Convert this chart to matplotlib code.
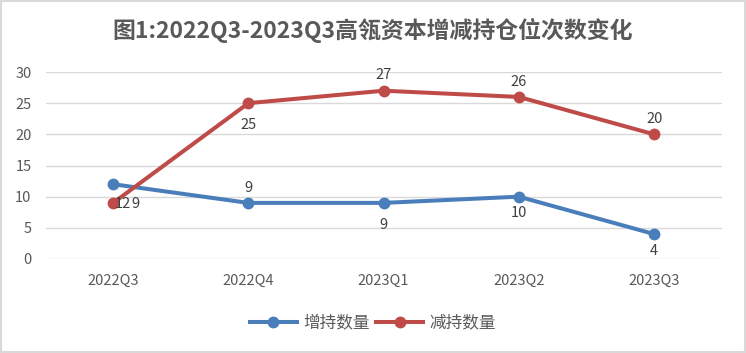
import matplotlib.pyplot as plt
from matplotlib.patches import Rectangle

plt.rcParams['font.family'] = ['Noto Sans CJK SC', 'DejaVu Sans']

quarters = ["2022Q3", "2022Q4", "2023Q1", "2023Q2", "2023Q3"]
increase = [12, 9, 9, 10, 4]
decrease = [9, 25, 27, 26, 20]
title = "图1:2022Q3-2023Q3高瓴资本增减持仓位次数变化"

blue = "#4a7ebb"
red = "#be4b48"
text_color = "#595959"

fig = plt.figure(figsize=(7.46, 3.53), dpi=100)
ax = fig.add_axes([0.061, 0.2663, 0.9065, 0.5297])

x = list(range(len(quarters)))
ax.plot(x, increase, color=blue, lw=2.9, marker="o", ms=7.5, label="增持数量", zorder=3)
ax.plot(x, decrease, color=red, lw=2.9, marker="o", ms=7.5, label="减持数量", zorder=3)

# data labels: (dx, dy) offsets in points
inc_offsets = [(1.5, -14), (0, 11), (0, -16), (0, -12), (0, -12)]
dec_offsets = [(13, -1), (0, -16), (0, 11), (0, 11), (0, 11)]
for i, v in enumerate(increase):
    dx, dy = inc_offsets[i]
    ha = "left" if i == 0 else "center"
    ax.annotate(str(v), (x[i], v), xytext=(dx, dy), textcoords="offset points",
                ha=ha, va="center", fontsize=10.5, color="#404040")
for i, v in enumerate(decrease):
    dx, dy = dec_offsets[i]
    ha = "left" if i == 0 else "center"
    ax.annotate(str(v), (x[i], v), xytext=(dx, dy), textcoords="offset points",
                ha=ha, va="center", fontsize=10.5, color="#404040")

ax.set_xlim(-0.5, len(quarters) - 0.5)
ax.set_ylim(0, 30)
ax.set_yticks(range(0, 31, 5))
ax.set_xticks(x)
ax.set_xticklabels(quarters)
ax.tick_params(axis="both", length=0, labelsize=10.5, labelcolor=text_color)
ax.tick_params(axis="x", pad=11)
ax.tick_params(axis="y", pad=10)
ax.grid(axis="y", color="#d9d9d9", lw=1)
ax.set_axisbelow(True)
for s in ax.spines.values():
    s.set_visible(False)

fig.text(0.5, 0.915, title, ha="center", va="center", fontsize=16.5,
         fontweight="bold", color=text_color)

fig.legend(loc="center", bbox_to_anchor=(0.5, 0.085), ncol=2, frameon=False,
           fontsize=12, labelcolor=text_color, handlelength=2.8, columnspacing=0.4,
           handletextpad=0.4)

fig.patches.append(Rectangle((0.001, 0.002), 0.998, 0.995, transform=fig.transFigure,
                             fill=False, edgecolor="#d9d9d9", lw=1.5))

fig.savefig("out.png", dpi=100)
